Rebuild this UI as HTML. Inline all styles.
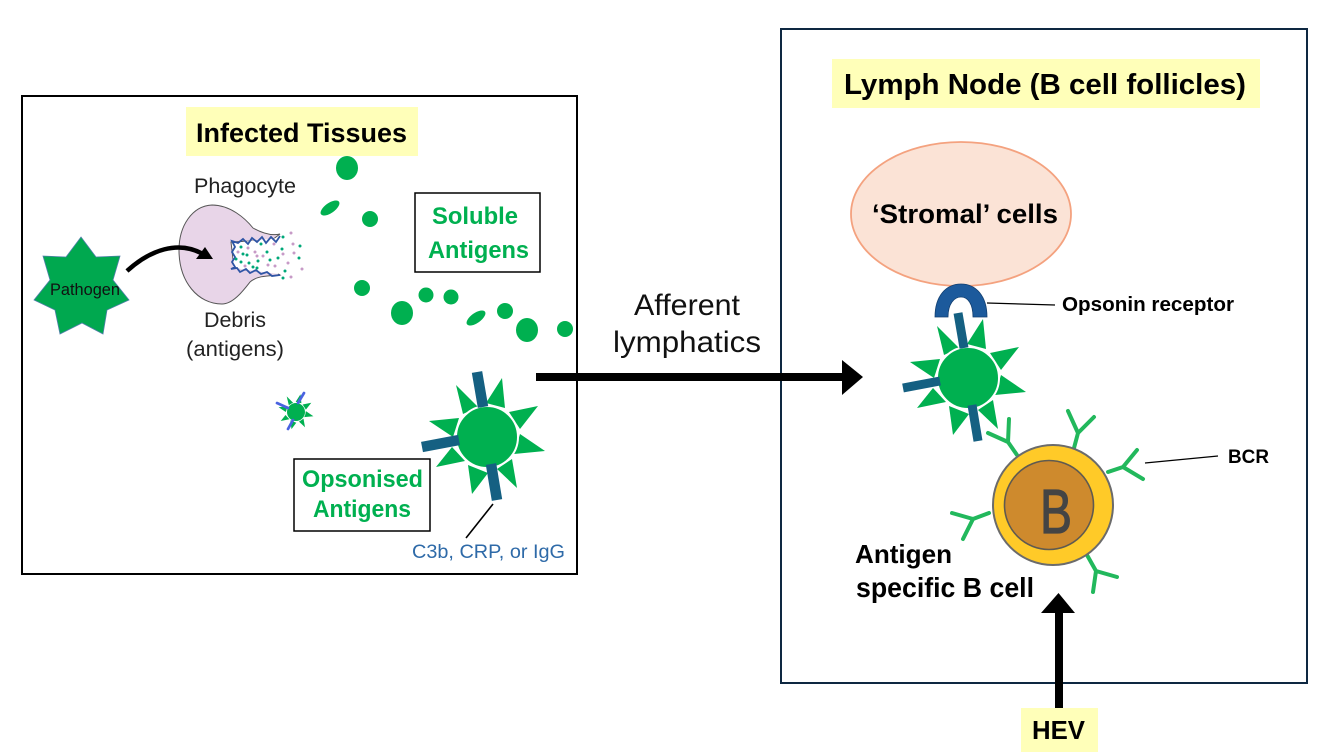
<!DOCTYPE html>
<html><head><meta charset="utf-8"><style>
html,body{margin:0;padding:0;background:#fff;width:1334px;height:756px;overflow:hidden}
svg{display:block}
text{font-family:"Liberation Sans",sans-serif}
.b{font-weight:bold}
.g{fill:#00b050;font-weight:bold;font-size:24px}
</style></head><body>
<svg width="1334" height="756" viewBox="0 0 1334 756" xmlns="http://www.w3.org/2000/svg">
<defs>
<g id="ag">
<g fill="#00b050">
<polygon points="456,385 478,407 463,414"/>
<polygon points="502,378 505,408 486,403"/>
<polygon points="538,406 509,412 520,429"/>
<polygon points="545,451 520,434 514,454"/>
<polygon points="517,488 512,459 497,469"/>
<polygon points="472,494 488,473 468,465"/>
<polygon points="436,467 465,461 452,447"/>
<polygon points="429,421 459,418 453,437"/>
</g>
<circle cx="487" cy="437" r="31" fill="#00b050" stroke="#fff" stroke-width="2"/>
</g>
</defs>
<rect x="22" y="96" width="555" height="478" fill="#fff" stroke="#000" stroke-width="2"/>
<rect x="781" y="29" width="526" height="654" fill="#fff" stroke="#0e2841" stroke-width="2"/>

<rect x="186" y="107" width="232" height="49" fill="#ffffb9"/>
<text x="196" y="142" class="b" font-size="27" textLength="211" lengthAdjust="spacingAndGlyphs">Infected Tissues</text>
<rect x="832" y="59" width="428" height="49" fill="#ffffb9"/>
<text x="844" y="94" class="b" font-size="29" textLength="402" lengthAdjust="spacingAndGlyphs">Lymph Node (B cell follicles)</text>

<polygon points="81,237 96,257 120,256 113,280 129,300 107,310 103,334 82,323 60,334 55,310 34,300 50,280 43,256 66,257" fill="#00a84f" stroke="#4f7fa8" stroke-width="0.8"/>
<text x="50" y="295" font-size="17" textLength="70" lengthAdjust="spacingAndGlyphs" fill="#111">Pathogen</text>

<path d="M280,234 C272,236 262,233 253,228 C245,218 230,205 212,205 C192,206 179,226 179,250 C179,282 198,304 222,304 C233,304 243,291 250,282 C258,275 270,276 280,275 L272,270 L234,268 L231,242 L272,240 Z" fill="#e8d5e8" stroke="#555" stroke-width="1"/>
<path d="M278,238 L233,243 L233,268 L278,274 L300,255 Z" fill="#fff" stroke="none"/>
<path d="M280,236 L276,242 L271,237 L266,243 L262,237 L257,242 L252,238 L248,244 L243,239 L238,243 L232,241 L235,247 L232,252 L235,257 L232,262 L235,267 L231,269 L237,268 L240,272 L246,269 L250,273 L256,270 L261,274 L267,272 L272,276 L280,275" fill="none" stroke="#2f55a5" stroke-width="1.8"/>
<g fill="#00a878">
<circle cx="283" cy="237" r="1.5"/><circle cx="300" cy="246" r="1.5"/><circle cx="282" cy="249" r="1.5"/><circle cx="299" cy="258" r="1.5"/><circle cx="285" cy="271" r="1.5"/><circle cx="283" cy="278" r="1.5"/><circle cx="261" cy="244" r="1.5"/><circle cx="241" cy="247" r="1.5"/><circle cx="243" cy="254" r="1.5"/><circle cx="247" cy="255" r="1.5"/><circle cx="267" cy="252" r="1.5"/><circle cx="236" cy="259" r="1.5"/><circle cx="258" cy="261" r="1.5"/><circle cx="270" cy="260" r="1.5"/><circle cx="249" cy="263" r="1.5"/><circle cx="253" cy="267" r="1.5"/><circle cx="257" cy="268" r="1.5"/><circle cx="241" cy="262" r="1.5"/><circle cx="278" cy="258" r="1.5"/>
</g>
<g fill="#c79ac7">
<circle cx="291" cy="233" r="1.5"/><circle cx="293" cy="244" r="1.5"/><circle cx="274" cy="244" r="1.5"/><circle cx="294" cy="253" r="1.5"/><circle cx="302" cy="269" r="1.5"/><circle cx="291" cy="277" r="1.5"/><circle cx="283" cy="254" r="1.5"/><circle cx="288" cy="263" r="1.5"/><circle cx="255" cy="252" r="1.5"/><circle cx="263" cy="256" r="1.5"/><circle cx="257" cy="256" r="1.5"/><circle cx="248" cy="248" r="1.5"/><circle cx="245" cy="266" r="1.5"/><circle cx="268" cy="265" r="1.5"/><circle cx="275" cy="266" r="1.5"/><circle cx="238" cy="252" r="1.5"/>
</g>
<path d="M127,271 C150,250 178,240 203,254" fill="none" stroke="#000" stroke-width="4.5"/>
<polygon points="213,259 196,259 205,247" fill="#000"/>

<text x="194" y="193" font-size="21.500" textLength="102" lengthAdjust="spacingAndGlyphs" fill="#222">Phagocyte</text>
<text x="204" y="327" font-size="21.500" textLength="62" lengthAdjust="spacingAndGlyphs" fill="#222">Debris</text>
<text x="186" y="356" font-size="21.500" textLength="98" lengthAdjust="spacingAndGlyphs" fill="#222">(antigens)</text>

<g fill="#00b050">
<ellipse cx="347" cy="168" rx="11" ry="12"/>
<ellipse cx="330" cy="208" rx="11" ry="5" transform="rotate(-35 330 208)"/>
<circle cx="370" cy="219" r="8"/>
<circle cx="362" cy="288" r="8"/>
<ellipse cx="402" cy="313" rx="11" ry="12"/>
<circle cx="426" cy="295" r="7.500"/>
<circle cx="451" cy="297" r="7.500"/>
<ellipse cx="476" cy="318" rx="11" ry="5" transform="rotate(-35 476 318)"/>
<circle cx="505" cy="311" r="8"/>
<ellipse cx="527" cy="330" rx="11" ry="12"/>
<circle cx="565" cy="329" r="8"/>
</g>

<rect x="415" y="193" width="125" height="79" fill="#fff" stroke="#000" stroke-width="1.5"/>
<text x="432" y="224" class="g" textLength="86" lengthAdjust="spacingAndGlyphs">Soluble</text>
<text x="428" y="258" class="g" textLength="101" lengthAdjust="spacingAndGlyphs">Antigens</text>

<rect x="294" y="459" width="136" height="72" fill="#fff" stroke="#000" stroke-width="1.5"/>
<text x="302" y="487" class="g" textLength="121" lengthAdjust="spacingAndGlyphs">Opsonised</text>
<text x="313" y="517" class="g" textLength="98" lengthAdjust="spacingAndGlyphs">Antigens</text>

<!-- small opsonised -->
<g transform="translate(296 412) scale(.3) translate(-487 -437)">
<use href="#ag"/>
</g>
<g stroke="#4a63e0" stroke-width="2.700" stroke-linecap="round">
<line x1="304" y1="393" x2="298" y2="403"/>
<line x1="277" y1="403" x2="288" y2="408"/>
<line x1="288" y1="429" x2="293" y2="420"/>
</g>

<!-- big opsonised -->
<use href="#ag"/>
<g stroke="#156082" stroke-width="10.500" fill="none">
<line x1="477" y1="372" x2="483" y2="407"/>
<line x1="422" y1="447" x2="459" y2="440"/>
<line x1="491" y1="464" x2="497" y2="500"/>
</g>
<line x1="493" y1="504" x2="466" y2="538" stroke="#000" stroke-width="1.6"/>
<text x="412" y="558" font-size="19.500" textLength="153" lengthAdjust="spacingAndGlyphs" fill="#2e6aa8">C3b, CRP, or IgG</text>

<!-- Main arrow -->
<rect x="536" y="373" width="308" height="8" fill="#000"/>
<polygon points="842,360 863,377 842,395" fill="#000"/>
<text x="634" y="315" font-size="30" textLength="106" lengthAdjust="spacingAndGlyphs" fill="#111">Afferent</text>
<text x="613" y="352" font-size="30" textLength="148" lengthAdjust="spacingAndGlyphs" fill="#111">lymphatics</text>

<!-- Stromal -->
<ellipse cx="961" cy="214" rx="110" ry="72" fill="#fbe3d6" stroke="#f4a27f" stroke-width="1.8"/>
<text x="872" y="223" class="b" font-size="26.500" textLength="186" lengthAdjust="spacingAndGlyphs">‘Stromal’ cells</text>

<!-- receptor -->
<path d="M935,317 C935,296 946,284 961,284 C976,284 987,296 987,317 L973,317 C973,304 968,297 961,297 C954,297 948,304 948,317 Z" fill="#1c5a9c" stroke="#123f70" stroke-width="0.8"/>
<line x1="987" y1="303" x2="1055" y2="305" stroke="#000" stroke-width="1.3"/>
<text x="1062" y="311" class="b" font-size="20" textLength="172" lengthAdjust="spacingAndGlyphs">Opsonin receptor</text>

<!-- second opsonised -->
<g transform="translate(481 -59)">
<use href="#ag"/>
<g stroke="#156082" stroke-width="9" fill="none">
<line x1="477" y1="372" x2="483" y2="407"/>
<line x1="422" y1="447" x2="459" y2="440"/>
<line x1="491" y1="464" x2="497" y2="500"/>
</g>
</g>

<!-- BCRs -->
<g stroke="#22b85c" stroke-width="4" fill="none" stroke-linecap="round" stroke-linejoin="round">
<path d="M1017,455 L1008,442 L1009,419 M1008,442 L988,433"/>
<path d="M1074,448 L1078,433 L1068,411 M1078,433 L1094,417"/>
<path d="M1108,472 L1123,467 L1137,450 M1123,467 L1143,479"/>
<path d="M989,513 L973,519 L952,513 M973,519 L963,539"/>
<path d="M1087,555 L1096,571 L1093,592 M1096,571 L1117,577"/>
</g>
<!-- B cell -->
<circle cx="1053" cy="505" r="60" fill="#ffca28" stroke="#6b6b6b" stroke-width="2"/>
<circle cx="1049" cy="505" r="44.500" fill="#ce8a2d" stroke="#5f5a50" stroke-width="1.6"/>
<text x="1040" y="533" font-size="62" fill="#444" stroke="#444" stroke-width="1.2" textLength="32" lengthAdjust="spacingAndGlyphs">B</text>
<line x1="1145" y1="463" x2="1218" y2="456" stroke="#000" stroke-width="1.3"/>
<text x="1228" y="463" class="b" font-size="19" textLength="41" lengthAdjust="spacingAndGlyphs">BCR</text>
<text x="855" y="563" class="b" font-size="26" textLength="97" lengthAdjust="spacingAndGlyphs">Antigen</text>
<text x="856" y="597" class="b" font-size="27.500" textLength="178" lengthAdjust="spacingAndGlyphs">specific B cell</text>

<!-- HEV -->
<rect x="1055" y="610" width="8" height="100" fill="#000"/>
<polygon points="1058.500,593 1075,613 1041,613" fill="#000"/>
<rect x="1021" y="708" width="77" height="44" fill="#ffffb9"/>
<text x="1032" y="739" class="b" font-size="26" textLength="53" lengthAdjust="spacingAndGlyphs">HEV</text>
</svg>
</body></html>
